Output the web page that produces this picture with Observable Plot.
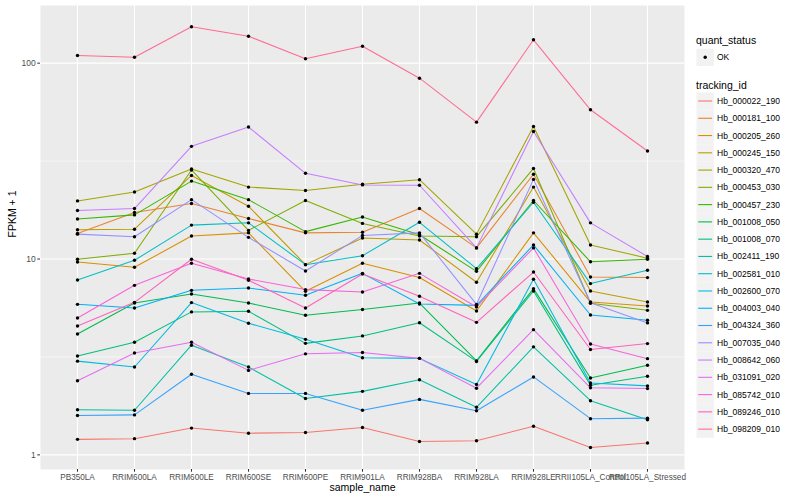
<!DOCTYPE html>
<html><head><meta charset="utf-8">
<script src="https://cdn.jsdelivr.net/npm/d3@7"></script>
<script src="https://cdn.jsdelivr.net/npm/@observablehq/plot@0.6"></script>
<style>
body{margin:0;background:#fff;}
#wrap{position:relative;width:800px;height:500px;font-family:"Liberation Sans",Arial,Helvetica,sans-serif;}
#legend{position:absolute;left:0;top:0;pointer-events:none;}
</style></head><body><div id="wrap"></div>
<script>
const samples = ["PB350LA","RRIM600LA","RRIM600LE","RRIM600SE","RRIM600PE","RRIM901LA","RRIM928BA","RRIM928LA","RRIM928LE","RRII105LA_Control","RRII105LA_Stressed"];
const trackingIds = ["Hb_000022_190","Hb_000181_100","Hb_000205_260","Hb_000245_150","Hb_000320_470","Hb_000453_030","Hb_000457_230","Hb_001008_050","Hb_001008_070","Hb_002411_190","Hb_002581_010","Hb_002600_070","Hb_004003_040","Hb_004324_360","Hb_007035_040","Hb_008642_060","Hb_031091_020","Hb_085742_010","Hb_089246_010","Hb_098209_010"];
const colors = ["#F8766D","#EA8331","#D89000","#C09B00","#A3A500","#7CAE00","#39B600","#00BB4E","#00BF7D","#00C1A3","#00BFC4","#00BAE0","#00B0F6","#35A2FF","#9590FF","#C77CFF","#E76BF3","#FA62DB","#FF62BC","#FF6C91"];
const quantStatus = ["OK"];
const yTicks = [1, 10, 100];
const yMinor = [3.162, 31.62];

// FPKM + 1 per sample (in the order of `samples`)
const Hb_000022_190 = [1.20,1.21,1.37,1.29,1.30,1.38,1.17,1.18,1.40,1.09,1.15];
const Hb_000181_100 = [13.5,17.3,19.2,16.1,13.6,13.7,18.1,11.4,27.1,8.09,8.04];
const Hb_000205_260 = [9.65,9.07,13.1,13.6,6.84,9.51,8.04,5.43,13.6,6.03,5.76];
const Hb_000245_150 = [14.1,14.2,26.7,18.6,9.36,12.8,12.5,7.61,23.3,6.87,6.03];
const Hb_000320_470 = [19.8,22.0,28.8,23.3,22.4,24.1,25.4,13.4,47.5,11.8,10.1];
const Hb_000453_030 = [9.97,10.7,28.5,14.0,19.9,15.2,13.1,13.0,29.0,5.94,5.47];
const Hb_000457_230 = [16.0,16.8,25.0,20.1,13.8,16.4,13.3,8.65,19.9,9.68,9.97];
const Hb_001008_050 = [4.14,5.96,6.63,5.96,5.16,5.52,5.96,3.02,7.06,2.47,2.87];
const Hb_001008_070 = [3.20,3.76,5.37,5.41,3.71,4.05,4.73,3.00,6.87,2.27,2.52];
const Hb_002411_190 = [1.70,1.69,3.63,2.81,1.94,2.11,2.42,1.75,3.56,1.89,1.51];
const Hb_002581_010 = [7.81,9.85,14.9,15.3,9.36,10.4,15.4,8.93,19.5,7.49,8.76];
const Hb_002600_070 = [3.01,2.81,5.99,4.70,3.89,3.13,3.11,2.29,7.88,2.33,2.25];
const Hb_004003_040 = [5.87,5.62,6.92,7.11,6.53,8.45,5.89,5.80,11.8,5.18,4.87];
const Hb_004324_360 = [1.59,1.60,2.58,2.06,2.06,1.69,1.92,1.68,2.50,1.53,1.54];
const Hb_007035_040 = [13.4,13.0,20.1,12.9,8.69,13.2,13.6,5.87,25.5,5.98,4.72];
const Hb_008642_060 = [17.7,18.1,37.6,47.2,27.4,23.9,23.8,11.4,44.8,15.3,10.3];
const Hb_031091_020 = [2.39,3.31,3.76,2.70,3.28,3.33,3.11,2.19,4.36,2.20,2.18];
const Hb_085742_010 = [5.00,7.34,9.51,7.91,6.98,6.79,8.45,5.69,11.4,3.68,3.10];
const Hb_089246_010 = [4.55,6.01,9.97,7.79,5.62,8.38,6.45,4.75,8.58,3.45,3.70];
const Hb_098209_010 = [109.5,107.3,153.4,137.3,105.3,122.1,83.8,50.0,131.6,57.8,35.6];

const series = [Hb_000022_190,Hb_000181_100,Hb_000205_260,Hb_000245_150,Hb_000320_470,Hb_000453_030,Hb_000457_230,Hb_001008_050,Hb_001008_070,Hb_002411_190,Hb_002581_010,Hb_002600_070,Hb_004003_040,Hb_004324_360,Hb_007035_040,Hb_008642_060,Hb_031091_020,Hb_085742_010,Hb_089246_010,Hb_098209_010];

const rows = [];
series.forEach((vals, i) => vals.forEach((v, j) => rows.push({tracking_id: trackingIds[i], sample_name: samples[j], fpkm1: v, quant_status: quantStatus[0]})));

const font = '"Liberation Sans",Arial,Helvetica,sans-serif';
const chart = Plot.plot({
  width: 800, height: 500,
  marginLeft: 40, marginRight: 116, marginTop: 5, marginBottom: 31,
  style: {fontFamily: font, background: "transparent", overflow: "visible"},
  x: {type: "point", domain: samples, padding: 0.6, label: null},
  y: {type: "log", domain: [0.842, 197], label: null},
  color: {domain: trackingIds, range: colors},
  marks: [
    Plot.frame({fill: "#EBEBEB", stroke: null}),
    Plot.ruleY(yMinor, {stroke: "white", strokeWidth: 0.55}),
    Plot.ruleY(yTicks, {stroke: "white", strokeWidth: 1.1}),
    Plot.ruleX(samples, {stroke: "white", strokeWidth: 1.1}),
    Plot.axisX({tickSize: 2.75, tickPadding: 1.5, fontSize: 8.2, stroke: "#333333", fill: "#4D4D4D", label: null}),
    Plot.axisY({ticks: yTicks, tickFormat: d => String(d), tickSize: 2.75, tickPadding: 2, fontSize: 8.5, stroke: "#333333", fill: "#4D4D4D", label: null}),
    Plot.line(rows, {x: "sample_name", y: "fpkm1", z: "tracking_id", stroke: "tracking_id", strokeWidth: 1.05}),
    Plot.dot(rows, {x: "sample_name", y: "fpkm1", r: 1.7, fill: "black", stroke: null}),
    Plot.text(["FPKM + 1"], {frameAnchor: "left", dx: -28, rotate: -90, fontSize: 10.5, fill: "black"}),
    Plot.text(["sample_name"], {frameAnchor: "bottom", dy: 21, fontSize: 10.5, fill: "black"})
  ]
});
const wrap = document.getElementById("wrap");
wrap.appendChild(chart);

// Legend (right side)
const leg = d3.select(wrap).append("svg").attr("id", "legend")
  .attr("width", 800).attr("height", 500)
  .style("font-family", font);
leg.append("text").attr("x", 696).attr("y", 44).attr("font-size", 10.5).text("quant_status");
leg.append("rect").attr("x", 696.5).attr("y", 48.7).attr("width", 17.3).attr("height", 17.3).attr("fill", "#F2F2F2");
leg.append("circle").attr("cx", 705.2).attr("cy", 57.3).attr("r", 1.7).attr("fill", "black");
leg.append("text").attr("x", 717).attr("y", 57.3).attr("dy", "0.35em").attr("font-size", 8.5).attr("fill", "black").text(quantStatus[0]);
leg.append("text").attr("x", 696).attr("y", 88.5).attr("font-size", 10.5).text("tracking_id");
trackingIds.forEach((id, i) => {
  const cy = 101 + 17.27 * i;
  leg.append("rect").attr("x", 696.5).attr("y", cy - 8.6).attr("width", 17.3).attr("height", 17.3).attr("fill", "#F2F2F2");
  leg.append("line").attr("x1", 698.2).attr("x2", 712.1).attr("y1", cy).attr("y2", cy).attr("stroke", colors[i]).attr("stroke-width", 1.1);
  leg.append("text").attr("x", 717).attr("y", cy).attr("dy", "0.35em").attr("font-size", 8.5).attr("fill", "black").text(id);
});
</script></body></html>
